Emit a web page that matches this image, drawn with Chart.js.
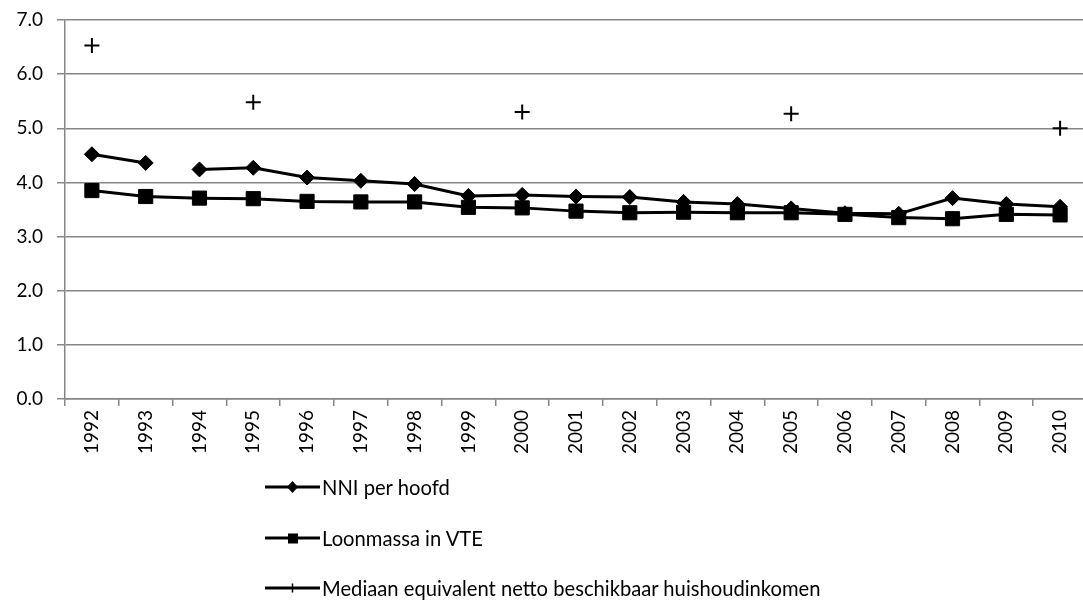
<!DOCTYPE html>
<html>
<head>
<meta charset="utf-8">
<script src="https://cdn.jsdelivr.net/npm/chart.js@4/dist/chart.umd.min.js"></script>
<style>
  html, body { margin: 0; padding: 0; background: #fff; overflow: hidden; }
  #wrap { position: relative; width: 1098px; height: 601px; }
  #chart { position: absolute; left: 0; top: 0; }
  #legend { position: absolute; left: 265px; top: 470px; font-family: Lato, sans-serif; font-size: 20.2px; color: #000; }
  .item { display: flex; align-items: center; height: 34px; margin-bottom: 16.5px; }
  .item svg { margin-right: 2px; }
</style>
</head>
<body>
<div id="wrap">
  <canvas id="chart" width="1098" height="601"></canvas>
  <div id="legend"></div>
</div>
<script>
const years = ['1992','1993','1994','1995','1996','1997','1998','1999','2000','2001',
  '2002','2003','2004','2005','2006','2007','2008','2009','2010'];
const nniPerHoofd = [4.52, 4.36, 4.24, 4.27, 4.09, 4.03, 3.97, 3.75, 3.77, 3.74,
  3.73, 3.64, 3.60, 3.52, 3.43, 3.42, 3.71, 3.60, 3.55];
const loonmassa = [3.85, 3.74, 3.71, 3.70, 3.65, 3.64, 3.64, 3.54, 3.53, 3.47,
  3.44, 3.45, 3.44, 3.44, 3.41, 3.35, 3.33, 3.41, 3.40];
const mediaan = [6.53, null, null, 5.48, null, null, null, null, 5.30, null,
  null, null, null, 5.27, null, null, null, null, 5.00];
const seriesNames = ['NNI per hoofd', 'Loonmassa in VTE', 'Mediaan equivalent netto beschikbaar huishoudinkomen'];
const yTicks = [0, 1, 2, 3, 4, 5, 6, 7];

const gridGrey = '#868686';
const font = { family: 'Lato, sans-serif', size: 19 };

// no line between 1993 and 1994 in the NNI series
const gapAfter = 1;

new Chart(document.getElementById('chart'), {
  type: 'line',
  data: {
    labels: years,
    datasets: [
      {
        label: seriesNames[0],
        data: nniPerHoofd,
        borderColor: '#000',
        backgroundColor: '#000',
        borderWidth: 3,
        pointStyle: 'rectRot',
        pointRadius: 7.5,
        pointBorderWidth: 1,
        segment: {
          borderColor: ctx => ctx.p0DataIndex === gapAfter ? 'transparent' : '#000'
        }
      },
      {
        label: seriesNames[1],
        data: loonmassa,
        borderColor: '#000',
        backgroundColor: '#000',
        borderWidth: 3,
        pointStyle: 'rect',
        pointRadius: 10,
        pointBorderWidth: 1
      },
      {
        label: seriesNames[2],
        data: mediaan,
        borderColor: '#000',
        backgroundColor: '#000',
        borderWidth: 3,
        pointStyle: 'cross',
        pointRadius: 7.5,
        pointBorderWidth: 2,
        spanGaps: false
      }
    ]
  },
  options: {
    responsive: false,
    animation: false,
    devicePixelRatio: 1,
    layout: { padding: { top: 20, right: 3, left: 0, bottom: 0 } },
    plugins: { legend: { display: false }, tooltip: { enabled: false } },
    scales: {
      x: {
        offset: true,
        grid: { offset: true, drawOnChartArea: false, drawTicks: true, tickLength: 7, color: gridGrey, lineWidth: 1.5 },
        border: { color: gridGrey, width: 1.5 },
        ticks: { color: '#000', font: font, minRotation: 90, maxRotation: 90, padding: 4, autoSkip: false },
        afterFit: s => { s.height = 202; s.paddingLeft = 0; s.paddingRight = 0; }
      },
      y: {
        min: 0,
        max: 7,
        afterBuildTicks: s => { s.ticks = yTicks.map(v => ({ value: v })); },
        grid: { color: gridGrey, lineWidth: 1.5, tickLength: 8 },
        border: { color: gridGrey, width: 1.5 },
        ticks: { color: '#000', font: font, padding: 14, callback: v => v.toFixed(1) },
        afterFit: s => { s.width = 65; s.paddingTop = 0; s.paddingBottom = 0; }
      }
    }
  }
});

// legend below the chart, stacked vertically
const swatches = [
  '<polygon points="27.5,11 33,17 27.5,23 22,17" fill="#000"/>',
  '<rect x="23" y="12.5" width="10" height="10" fill="#000"/>',
  '<path d="M27.5 12.5 V21.5" stroke="#000" stroke-width="1.5"/>'
];
const legend = document.getElementById('legend');
seriesNames.forEach((name, i) => {
  const row = document.createElement('div');
  row.className = 'item';
  row.innerHTML = '<svg width="55" height="34"><path d="M0 17 H55" stroke="#000" stroke-width="3"/>' +
    swatches[i] + '</svg><span>' + name + '</span>';
  legend.appendChild(row);
});
</script>
</body>
</html>
